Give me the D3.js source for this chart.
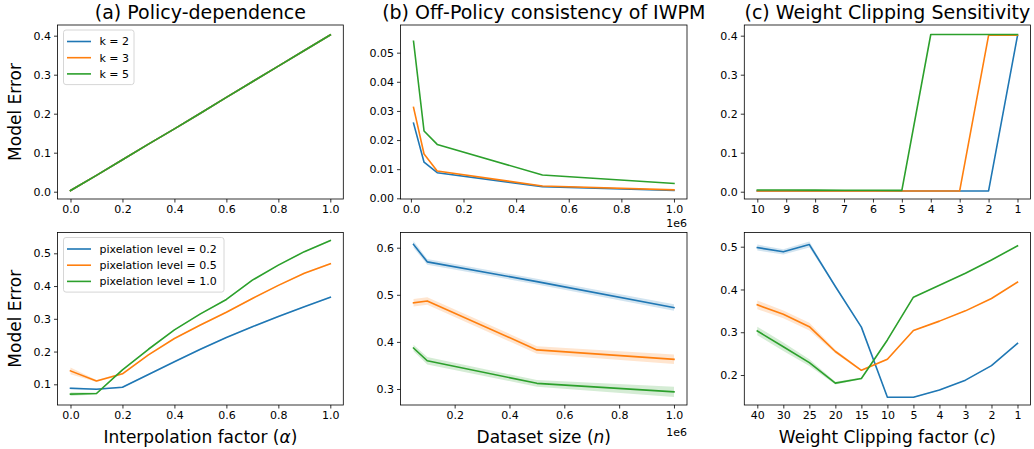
<!DOCTYPE html>
<html><head><meta charset="utf-8">
<script src="https://cdn.jsdelivr.net/npm/d3@7"></script>
<style>body{margin:0;background:#fff}svg{display:block}text{font-family:"DejaVu Sans",sans-serif}</style>
</head><body>
<svg id="c" width="1034" height="449"></svg>
<script>
// ---------- data ----------
const colors = ["#1f77b4", "#ff7f0e", "#2ca02c"];

// (a) Policy-dependence
const aX = [0, 0.1, 0.2, 0.3, 0.4, 0.5, 0.6, 0.7, 0.8, 0.9, 1.0];
const aK2 = [0.003, 0.042, 0.082, 0.122, 0.161, 0.201, 0.242, 0.282, 0.322, 0.362, 0.402];
const aK3 = [0.003, 0.042, 0.082, 0.122, 0.161, 0.201, 0.242, 0.282, 0.322, 0.362, 0.402];
const aK5 = [0.003, 0.042, 0.082, 0.122, 0.161, 0.201, 0.242, 0.282, 0.322, 0.362, 0.402];
const aLegend = ["k = 2", "k = 3", "k = 5"];
const aYTicks = [0.0, 0.1, 0.2, 0.3, 0.4];
const aXTicks = [0.0, 0.2, 0.4, 0.6, 0.8, 1.0];

// (b) Off-Policy consistency of IWPM
const bX = [10000, 50000, 100000, 500000, 1000000];
const bK2 = [0.0258, 0.0124, 0.0088, 0.0040, 0.0027];
const bK3 = [0.0312, 0.0152, 0.0094, 0.0042, 0.0029];
const bK5 = [0.0539, 0.0231, 0.0185, 0.0080, 0.0051];
const bYTicks = [0.00, 0.01, 0.02, 0.03, 0.04, 0.05];
const bXTicks = [0, 200000, 400000, 600000, 800000, 1000000];

// (c) Weight Clipping Sensitivity
const cCats = ["10", "9", "8", "7", "6", "5", "4", "3", "2", "1"];
const cK2 = [0.002, 0.002, 0.002, 0.002, 0.002, 0.002, 0.002, 0.002, 0.002, 0.400];
const cK3 = [0.002, 0.002, 0.002, 0.002, 0.002, 0.002, 0.002, 0.002, 0.401, 0.401];
const cK5 = [0.0045, 0.0043, 0.0041, 0.0039, 0.0037, 0.0035, 0.403, 0.403, 0.403, 0.403];
const cYTicks = [0.0, 0.1, 0.2, 0.3, 0.4];

// (d) bottom-left: interpolation factor
const dX = [0, 0.1, 0.2, 0.3, 0.4, 0.5, 0.6, 0.7, 0.8, 0.9, 1.0];
const dP02 = [0.088, 0.085, 0.091, 0.130, 0.169, 0.207, 0.243, 0.276, 0.307, 0.337, 0.366];
const dP05 = [0.141, 0.110, 0.132, 0.190, 0.240, 0.281, 0.320, 0.362, 0.402, 0.439, 0.468];
const dP10 = [0.070, 0.072, 0.144, 0.207, 0.266, 0.315, 0.359, 0.418, 0.464, 0.505, 0.539];
const dP02Err = [0.003, 0.002, 0.002, 0.002, 0.002, 0.002, 0.002, 0.002, 0.002, 0.002, 0.002];
const dP05Err = [0.010, 0.003, 0.003, 0.002, 0.002, 0.002, 0.002, 0.002, 0.002, 0.002, 0.002];
const dP10Err = [0.006, 0.003, 0.002, 0.002, 0.002, 0.002, 0.002, 0.002, 0.002, 0.002, 0.002];
const dLegend = ["pixelation level = 0.2", "pixelation level = 0.5", "pixelation level = 1.0"];
const dYTicks = [0.1, 0.2, 0.3, 0.4, 0.5];
const dXTicks = [0.0, 0.2, 0.4, 0.6, 0.8, 1.0];

// (e) bottom-middle: dataset size
const eX = [50000, 100000, 500000, 1000000];
const eP02 = [0.607, 0.570, 0.528, 0.473];
const eP05 = [0.483, 0.487, 0.383, 0.363];
const eP10 = [0.387, 0.360, 0.312, 0.294];
const eP02Err = [0.007, 0.006, 0.006, 0.007];
const eP05Err = [0.008, 0.008, 0.008, 0.010];
const eP10Err = [0.007, 0.008, 0.007, 0.011];
const eYTicks = [0.3, 0.4, 0.5, 0.6];
const eXTicks = [200000, 400000, 600000, 800000, 1000000];

// (f) bottom-right: weight clipping factor
const fCats = ["40", "30", "25", "20", "15", "10", "5", "4", "3", "2", "1"];
const fP02 = [0.498, 0.488, 0.505, 0.407, 0.312, 0.148, 0.148, 0.165, 0.188, 0.222, 0.274];
const fP05 = [0.364, 0.342, 0.313, 0.255, 0.211, 0.237, 0.304, 0.326, 0.350, 0.379, 0.417];
const fP10 = [0.303, 0.266, 0.229, 0.181, 0.192, 0.282, 0.382, 0.410, 0.438, 0.469, 0.502];
const fP02Err = [0.007, 0.006, 0.007, 0.002, 0.002, 0.001, 0.001, 0.001, 0.001, 0.001, 0.001];
const fP05Err = [0.010, 0.009, 0.009, 0.004, 0.002, 0.002, 0.001, 0.001, 0.001, 0.001, 0.001];
const fP10Err = [0.010, 0.010, 0.008, 0.003, 0.002, 0.002, 0.001, 0.001, 0.001, 0.001, 0.001];
const fYTicks = [0.2, 0.3, 0.4, 0.5];

// ---------- layout ----------
const cols = [[57.5, 343.3], [400.5, 687], [744.3, 1030.5]];
const rows = [[25, 199], [232.5, 405]];
const svg = d3.select("#c");
const TICK_FS = 11, LABEL_FS = 17, TITLE_FS = 19;

function panel(o) {
  const [x0, x1] = cols[o.col], [y0, y1] = rows[o.row];
  const g = svg.append("g");
  let x;
  if (o.cats) {
    x = d3.scalePoint().domain(o.cats).range([x0, x1]).padding(0.05 * (o.cats.length - 1));
  } else {
    x = d3.scaleLinear().domain(o.xDomain).range([x0, x1]);
  }
  const y = d3.scaleLinear().domain(o.yDomain).range([y1, y0]);
  const xs = o.cats ? o.cats : o.xs;
  const clip = "clip" + o.col + o.row;
  g.append("clipPath").attr("id", clip).append("rect")
    .attr("x", x0).attr("y", y0).attr("width", x1 - x0).attr("height", y1 - y0);
  const plot = g.append("g").attr("clip-path", `url(#${clip})`);
  // bands
  o.series.forEach((s, i) => {
    if (!o.errs) return;
    const e = o.errs[i];
    const area = d3.area().x((d, j) => x(xs[j])).y0((d, j) => y(d - e[j])).y1((d, j) => y(d + e[j]));
    plot.append("path").attr("d", area(s)).attr("fill", colors[i]).attr("fill-opacity", 0.2).attr("stroke", "none");
  });
  o.series.forEach((s, i) => {
    const line = d3.line().x((d, j) => x(xs[j])).y(d => y(d));
    plot.append("path").attr("d", line(s)).attr("fill", "none").attr("stroke", colors[i])
      .attr("stroke-width", 1.6).attr("stroke-linejoin", "round").attr("stroke-linecap", "square");
  });
  // axes
  const xa = d3.axisBottom(x).tickSize(3.5).tickPadding(3);
  if (!o.cats) xa.tickValues(o.xTicks).tickFormat(o.xFmt);
  const ya = d3.axisLeft(y).tickSize(3.5).tickPadding(3).tickValues(o.yTicks).tickFormat(d3.format(o.yFmt));
  const gx = g.append("g").attr("transform", `translate(0,${y1})`).call(xa);
  const gy = g.append("g").attr("transform", `translate(${x0},0)`).call(ya);
  [gx, gy].forEach(a => {
    a.select(".domain").remove();
    a.selectAll("line").attr("stroke", "#000").attr("stroke-width", 0.8);
    a.selectAll("text").attr("font-size", TICK_FS).attr("fill", "#000").attr("font-family", "DejaVu Sans");
  });
  g.append("rect").attr("x", x0).attr("y", y0).attr("width", x1 - x0).attr("height", y1 - y0)
    .attr("fill", "none").attr("stroke", "#000").attr("stroke-width", 0.8);
  if (o.offset) {
    g.append("text").attr("x", x1).attr("y", o.offsetY).attr("text-anchor", "end")
      .attr("font-size", TICK_FS).text(o.offset);
  }
  if (o.title) {
    g.append("text").attr("x", (x0 + x1) / 2).attr("y", y0 - 6).attr("text-anchor", "middle")
      .attr("font-size", TITLE_FS).text(o.title);
  }
  if (o.ylabel) {
    g.append("text").attr("transform", `translate(21,${(y0 + y1) / 2}) rotate(-90)`)
      .attr("text-anchor", "middle").attr("font-size", LABEL_FS).text(o.ylabel);
  }
  if (o.xlabel) {
    const t = g.append("text").attr("x", (x0 + x1) / 2).attr("y", 443).attr("text-anchor", "middle")
      .attr("font-size", LABEL_FS);
    t.append("tspan").text(o.xlabel[0]);
    t.append("tspan").attr("font-style", "italic").text(o.xlabel[1]);
    t.append("tspan").text(o.xlabel[2]);
  }
  if (o.legend) {
    const lx = x0 + 6, ly = y0 + 5;
    const rowH = 16.2;
    const lw = o.legendW, lh = o.legend.length * rowH + 6;
    const lg = g.append("g");
    lg.append("rect").attr("x", lx).attr("y", ly).attr("width", lw).attr("height", lh)
      .attr("rx", 2.5).attr("fill", "#fff").attr("fill-opacity", 0.8).attr("stroke", "#cccccc").attr("stroke-width", 0.8);
    o.legend.forEach((name, i) => {
      const cy = ly + 11.5 + i * rowH;
      lg.append("line").attr("x1", lx + 3.5).attr("x2", lx + 27.5).attr("y1", cy).attr("y2", cy)
        .attr("stroke", colors[i]).attr("stroke-width", 1.6);
      lg.append("text").attr("x", lx + 36).attr("y", cy).attr("dy", "0.35em")
        .attr("font-size", TICK_FS).text(name);
    });
  }
}

const fmtM = d => d3.format(".1f")(d / 1e6);

panel({ col: 0, row: 0, xs: aX, series: [aK2, aK3, aK5], xDomain: [-0.05, 1.05], yDomain: [-0.0187, 0.4274],
  xTicks: aXTicks, xFmt: d3.format(".1f"), yTicks: aYTicks, yFmt: ".1f",
  title: "(a) Policy-dependence", ylabel: "Model Error", legend: aLegend, legendW: 70.5 });
panel({ col: 1, row: 0, xs: bX, series: [bK2, bK3, bK5], xDomain: [10000 - 49500, 1000000 + 49500], yDomain: [-0.00024, 0.0595],
  xTicks: bXTicks, xFmt: fmtM, yTicks: bYTicks, yFmt: ".2f",
  title: "(b) Off-Policy consistency of IWPM", offset: "1e6", offsetY: 227 });
panel({ col: 2, row: 0, cats: cCats, series: [cK2, cK3, cK5], yDomain: [-0.0187, 0.4274],
  yTicks: cYTicks, yFmt: ".1f", title: "(c) Weight Clipping Sensitivity" });
panel({ col: 0, row: 1, xs: dX, series: [dP02, dP05, dP10], errs: [dP02Err, dP05Err, dP10Err],
  xDomain: [-0.05, 1.05], yDomain: [0.0368, 0.5635], xTicks: dXTicks, xFmt: d3.format(".1f"), yTicks: dYTicks, yFmt: ".1f",
  ylabel: "Model Error", xlabel: ["Interpolation factor (", "α", ")"], legend: dLegend, legendW: 160.5 });
panel({ col: 1, row: 1, xs: eX, series: [eP02, eP05, eP10], errs: [eP02Err, eP05Err, eP10Err],
  xDomain: [50000 - 47500, 1000000 + 47500], yDomain: [0.266, 0.6323], xTicks: eXTicks, xFmt: fmtM, yTicks: eYTicks, yFmt: ".1f",
  xlabel: ["Dataset size (", "n", ")"], offset: "1e6", offsetY: 435.5 });
panel({ col: 2, row: 1, cats: fCats, series: [fP02, fP05, fP10], errs: [fP02Err, fP05Err, fP10Err],
  yDomain: [0.1299, 0.5332], yTicks: fYTicks, yFmt: ".1f",
  xlabel: ["Weight Clipping factor (", "c", ")"] });
</script>
</body></html>
